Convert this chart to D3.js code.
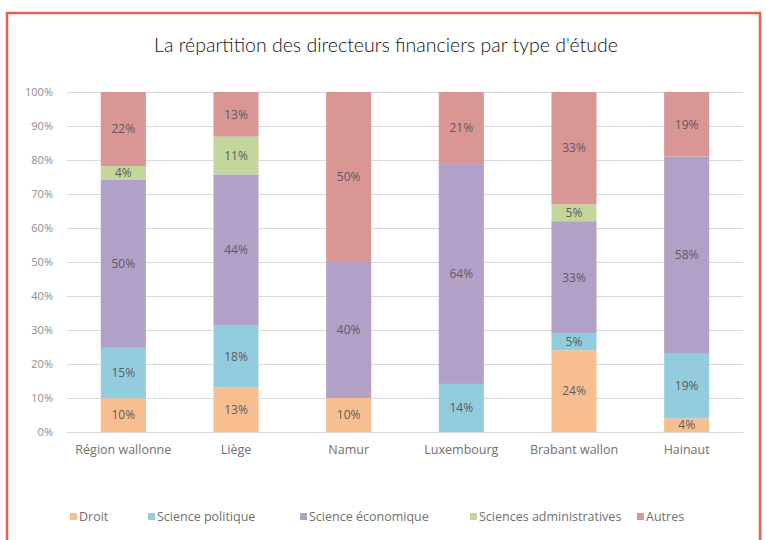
<!DOCTYPE html>
<html>
<head>
<meta charset="utf-8">
<script src="https://cdn.jsdelivr.net/npm/d3@7"></script>
<style>
  body { margin: 0; background: #fff; }
  svg { display: block; }
</style>
</head>
<body>
<div id="chart"></div>
<script>
// valeurs (%)
var regions = ["Région wallonne", "Liège", "Namur", "Luxembourg", "Brabant wallon", "Hainaut"]
var series = ["Droit", "Science politique", "Science économique", "Sciences administratives", "Autres"]
var droit = [10, 13, 10, 0, 24, 4]
var sciencePolitique = [15, 18, 0, 14, 5, 19]
var scienceEconomique = [50, 44, 40, 64, 33, 58]
var sciencesAdmin = [4, 11, 0, 0, 5, 0]
var autres = [22, 13, 50, 21, 33, 19]
var yTicks = [0, 0.1, 0.2, 0.3, 0.4, 0.5, 0.6, 0.7, 0.8, 0.9, 1]
var colors = ["#f7bf90", "#93cddd", "#b1a1c7", "#c3d69b", "#d99694"]

var width = 766
var height = 540
var margins = { left: 67, right: 23, top: 92, bottom: 108 }

var rows = regions.map((r, i) => ({
    region: r,
    "Droit": droit[i],
    "Science politique": sciencePolitique[i],
    "Science économique": scienceEconomique[i],
    "Sciences administratives": sciencesAdmin[i],
    "Autres": autres[i]
}))

var stacked = d3.stack().keys(series).offset(d3.stackOffsetExpand)(rows)

var svg = d3.select("#chart").append("svg").attr("width", width).attr("height", height)

// cadre rouge
svg.append("rect")
    .attr("x", 7).attr("y", 13)
    .attr("width", 753).attr("height", 540)
    .attr("fill", "none")
    .attr("stroke", "#e9604d")
    .attr("stroke-width", 2.5)

svg.append("text")
    .attr("x", 386).attr("y", 52)
    .attr("text-anchor", "middle")
    .style("font-family", "Lato, 'Open Sans', sans-serif")
    .style("font-size", "19.5px")
    .style("font-weight", 300)
    .attr("fill", "#111")
    .text("La répartition des directeurs financiers par type d'étude")

var x = d3.scaleBand()
    .domain(regions)
    .range([margins.left, width - margins.right])
    .paddingInner(0.6)
    .paddingOuter(0.3)

var y = d3.scaleLinear()
    .domain([0, 1])
    .range([height - margins.bottom, margins.top])

var grid = svg.append("g").attr("transform", "translate(" + margins.left + ",0)")
    .call(d3.axisLeft(y).tickValues(yTicks).tickSize(-(width - margins.right - margins.left)).tickFormat(d3.format(".0%")).tickPadding(14))
grid.select(".domain").remove()
grid.selectAll("line").attr("stroke", "#d9d9d9").attr("stroke-width", 1)
grid.selectAll("text")
    .attr("fill", "#8c8c8c")
    .style("font-family", "'Open Sans', sans-serif")
    .style("font-size", "11px")

var layer = svg.selectAll(".serie")
    .data(stacked)
    .enter()
    .append("g")
    .attr("class", "serie")
    .attr("fill", (d, i) => colors[i])

layer.selectAll("rect")
    .data(d => d)
    .enter()
    .append("rect")
    .attr("x", d => x(d.data.region))
    .attr("y", d => y(d[1]))
    .attr("width", x.bandwidth())
    .attr("height", d => y(d[0]) - y(d[1]))

layer.selectAll(".lbl")
    .data(d => d.map(p => ({ p: p, key: d.key })))
    .enter()
    .filter(d => d.p.data[d.key] > 0)
    .append("text")
    .attr("class", "lbl")
    .attr("x", d => x(d.p.data.region) + x.bandwidth() / 2)
    .attr("y", d => (y(d.p[0]) + y(d.p[1])) / 2)
    .attr("dy", "0.35em")
    .attr("text-anchor", "middle")
    .attr("fill", "#5f5a60")
    .style("font-family", "'Open Sans', sans-serif")
    .style("font-size", "12px")
    .text(d => d.p.data[d.key] + "%")

var xAxis = svg.append("g").attr("transform", "translate(0," + (height - margins.bottom) + ")")
    .call(d3.axisBottom(x).tickSize(0).tickPadding(13))
xAxis.select(".domain").attr("stroke", "#d9d9d9")
xAxis.selectAll("text")
    .attr("fill", "#707070")
    .style("font-family", "'Open Sans', sans-serif")
    .style("font-size", "12.5px")

// légende
var legendX = [70, 148, 300, 470, 637]
var legend = svg.selectAll(".legend")
    .data(series)
    .enter()
    .append("g")
    .attr("class", "legend")
    .attr("transform", (d, i) => "translate(" + legendX[i] + ",517)")
legend.append("rect")
    .attr("x", 0).attr("y", -4)
    .attr("width", 7).attr("height", 7)
    .attr("fill", (d, i) => colors[i])
legend.append("text")
    .attr("x", 9).attr("dy", "0.35em")
    .attr("fill", "#707070")
    .style("font-family", "'Open Sans', sans-serif")
    .style("font-size", "12.5px")
    .text(d => d)
</script>
</body>
</html>
